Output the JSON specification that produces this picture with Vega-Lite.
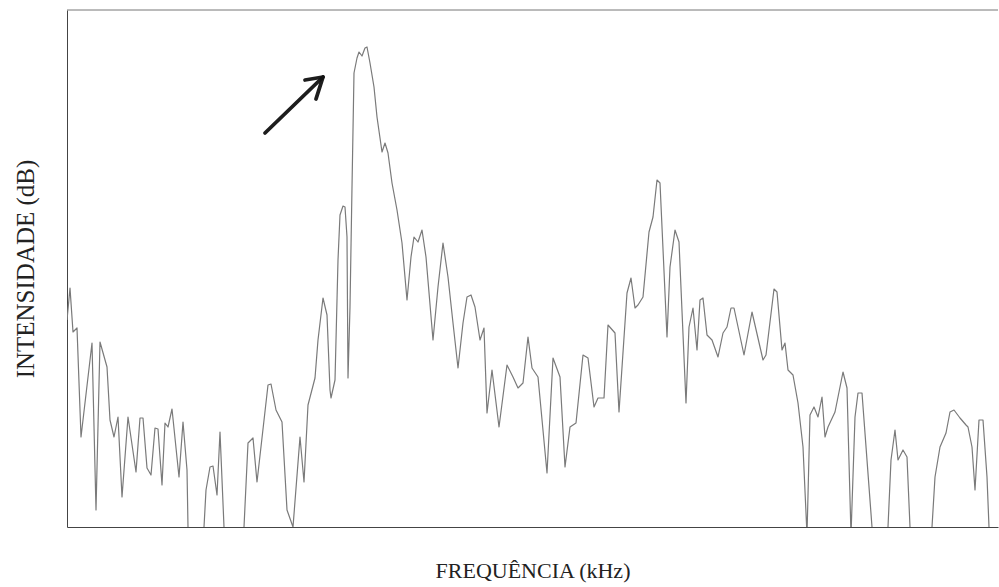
{
  "$schema": "https://vega.github.io/schema/vega-lite/v6.json",
  "autosize": {"type": "none"},
  "padding": {"left": 67, "top": 10, "right": 1, "bottom": 60},
  "width": 931,
  "height": 517,
  "background": "white",
  "config": {"view": {"stroke": null}},
  "datasets": {
    "spectrum": [
      {"f":0,"i":207},{"f":3,"i":239},{"f":6,"i":195},{"f":10,"i":199},{"f":14,"i":90},{"f":25,"i":184},{"f":29,"i":17},{"f":33,"i":185},{"f":40,"i":160},{"f":43,"i":107},{"f":47,"i":90},{"f":51,"i":110},{"f":55,"i":30},{"f":61,"i":110},{"f":69,"i":55},{"f":73,"i":109},{"f":76,"i":109},{"f":80,"i":59},{"f":84,"i":52},{"f":88,"i":99},{"f":91,"i":98},{"f":95,"i":42},{"f":98,"i":104},{"f":101,"i":100},{"f":105,"i":118},{"f":112,"i":50},{"f":116,"i":105},{"f":120,"i":57},{"f":121,"i":0},{"f":122,"i":-33},{"f":136,"i":-33},{"f":137,"i":0},
      {"f":139,"i":37},{"f":143,"i":60},{"f":146,"i":61},{"f":150,"i":32},{"f":153,"i":95},{"f":157,"i":0},{"f":158,"i":-33},{"f":176,"i":-33},{"f":177,"i":0},
      {"f":181,"i":84},{"f":186,"i":89},{"f":190,"i":45},{"f":201,"i":142},{"f":204,"i":143},{"f":209,"i":117},{"f":215,"i":105},{"f":220,"i":17},{"f":226,"i":0},{"f":233,"i":90},{"f":237,"i":45},{"f":241,"i":122},{"f":248,"i":149},{"f":251,"i":187},{"f":256,"i":229},{"f":260,"i":212},{"f":263,"i":137},{"f":264,"i":129},{"f":268,"i":147},{"f":271,"i":267},{"f":273,"i":312},{"f":276,"i":321},{"f":278,"i":320},{"f":280,"i":290},{"f":281,"i":149},{"f":283,"i":220},{"f":285,"i":340},{"f":287,"i":454},{"f":290,"i":469},{"f":292,"i":475},{"f":295,"i":471},{"f":298,"i":479},{"f":300,"i":480},{"f":303,"i":464},{"f":307,"i":440},{"f":310,"i":410},{"f":315,"i":375},{"f":318,"i":384},{"f":321,"i":374},{"f":325,"i":344},{"f":330,"i":317},{"f":335,"i":284},{"f":340,"i":227},{"f":344,"i":270},{"f":347,"i":290},{"f":351,"i":285},{"f":355,"i":297},{"f":359,"i":270},{"f":366,"i":187},{"f":371,"i":240},{"f":376,"i":284},{"f":381,"i":250},{"f":386,"i":204},{"f":391,"i":159},{"f":396,"i":204},{"f":400,"i":230},{"f":404,"i":232},{"f":408,"i":220},{"f":413,"i":187},{"f":417,"i":199},{"f":420,"i":114},{"f":425,"i":157},{"f":432,"i":100},{"f":440,"i":162},{"f":446,"i":150},{"f":451,"i":139},{"f":456,"i":144},{"f":461,"i":190},{"f":465,"i":159},{"f":471,"i":150},{"f":480,"i":54},{"f":486,"i":169},{"f":493,"i":150},{"f":498,"i":60},{"f":503,"i":100},{"f":509,"i":104},{"f":516,"i":172},{"f":521,"i":169},{"f":527,"i":120},{"f":531,"i":129},{"f":537,"i":129},{"f":541,"i":202},{"f":548,"i":194},{"f":552,"i":115},{"f":560,"i":234},{"f":564,"i":249},{"f":568,"i":219},{"f":571,"i":222},{"f":576,"i":230},{"f":582,"i":295},{"f":586,"i":310},{"f":590,"i":347},{"f":593,"i":344},{"f":600,"i":190},{"f":603,"i":260},{"f":608,"i":297},{"f":612,"i":285},{"f":619,"i":124},{"f":622,"i":200},{"f":626,"i":219},{"f":630,"i":177},{"f":633,"i":227},{"f":636,"i":229},{"f":640,"i":192},{"f":645,"i":187},{"f":651,"i":170},{"f":656,"i":194},{"f":660,"i":200},{"f":664,"i":219},{"f":667,"i":219},{"f":677,"i":172},{"f":685,"i":215},{"f":696,"i":167},{"f":699,"i":172},{"f":707,"i":238},{"f":710,"i":235},{"f":715,"i":177},{"f":718,"i":184},{"f":721,"i":157},{"f":726,"i":152},{"f":731,"i":124},{"f":736,"i":80},{"f":740,"i":-8},{"f":743,"i":112},{"f":747,"i":120},{"f":751,"i":110},{"f":755,"i":130},{"f":758,"i":90},{"f":761,"i":100},{"f":768,"i":115},{"f":776,"i":155},{"f":780,"i":139},{"f":784,"i":-8},{"f":788,"i":110},{"f":791,"i":134},{"f":795,"i":134},{"f":805,"i":0},{"f":806,"i":-33},{"f":820,"i":-33},{"f":821,"i":0},
      {"f":824,"i":67},{"f":828,"i":97},{"f":831,"i":67},{"f":836,"i":77},{"f":840,"i":70},{"f":843,"i":0},{"f":844,"i":-33},{"f":864,"i":-33},{"f":865,"i":0},
      {"f":868,"i":50},{"f":873,"i":80},{"f":879,"i":94},{"f":883,"i":115},{"f":887,"i":117},{"f":893,"i":109},{"f":899,"i":102},{"f":901,"i":100},{"f":905,"i":80},{"f":908,"i":37},{"f":912,"i":107},{"f":916,"i":107},{"f":920,"i":50},{"f":922,"i":0},{"f":923,"i":-33},{"f":931,"i":-33}
    ],
    "arrow": [
      {"seg":"shaft","o":0,"f":198,"i":394},
      {"seg":"shaft","o":1,"f":256,"i":450},
      {"seg":"head","o":0,"f":238,"i":447},
      {"seg":"head","o":1,"f":256,"i":450},
      {"seg":"head","o":2,"f":249,"i":428}
    ]
  },
  "layer": [
    {
      "data": {"name": "spectrum"},
      "mark": {"type": "line", "color": "#7a7a7a", "strokeWidth": 1.2, "clip": true, "strokeJoin": "round"},
      "encoding": {
        "x": {
          "field": "f", "type": "quantitative",
          "scale": {"domain": [0, 931], "nice": false, "zero": false},
          "axis": {
            "title": "FREQUÊNCIA (kHz)", "labels": false, "ticks": false, "grid": false,
            "domainColor": "#444", "domainWidth": 1,
            "titleFont": "Liberation Serif", "titleFontSize": 22, "titleFontWeight": "normal",
            "titleColor": "#222", "titlePadding": 33
          }
        },
        "y": {
          "field": "i", "type": "quantitative",
          "scale": {"domain": [0, 517], "nice": false, "zero": false},
          "axis": {
            "title": "INTENSIDADE (dB)", "labels": false, "ticks": false, "grid": false,
            "domainColor": "#444", "domainWidth": 1,
            "titleFont": "Liberation Serif", "titleFontSize": 25, "titleFontWeight": "normal",
            "titleColor": "#222", "titlePadding": 29
          }
        }
      }
    },
    {
      "data": {"values": [{"top": 517}]},
      "mark": {"type": "rule", "color": "#777", "strokeWidth": 1},
      "encoding": {"y": {"field": "top", "type": "quantitative"}}
    },
    {
      "data": {"name": "arrow"},
      "mark": {"type": "line", "color": "#111", "strokeWidth": 3.8, "strokeCap": "round", "strokeJoin": "round", "opacity": 0.95},
      "encoding": {
        "x": {"field": "f", "type": "quantitative"},
        "y": {"field": "i", "type": "quantitative"},
        "detail": {"field": "seg"},
        "order": {"field": "o"}
      }
    }
  ]
}
